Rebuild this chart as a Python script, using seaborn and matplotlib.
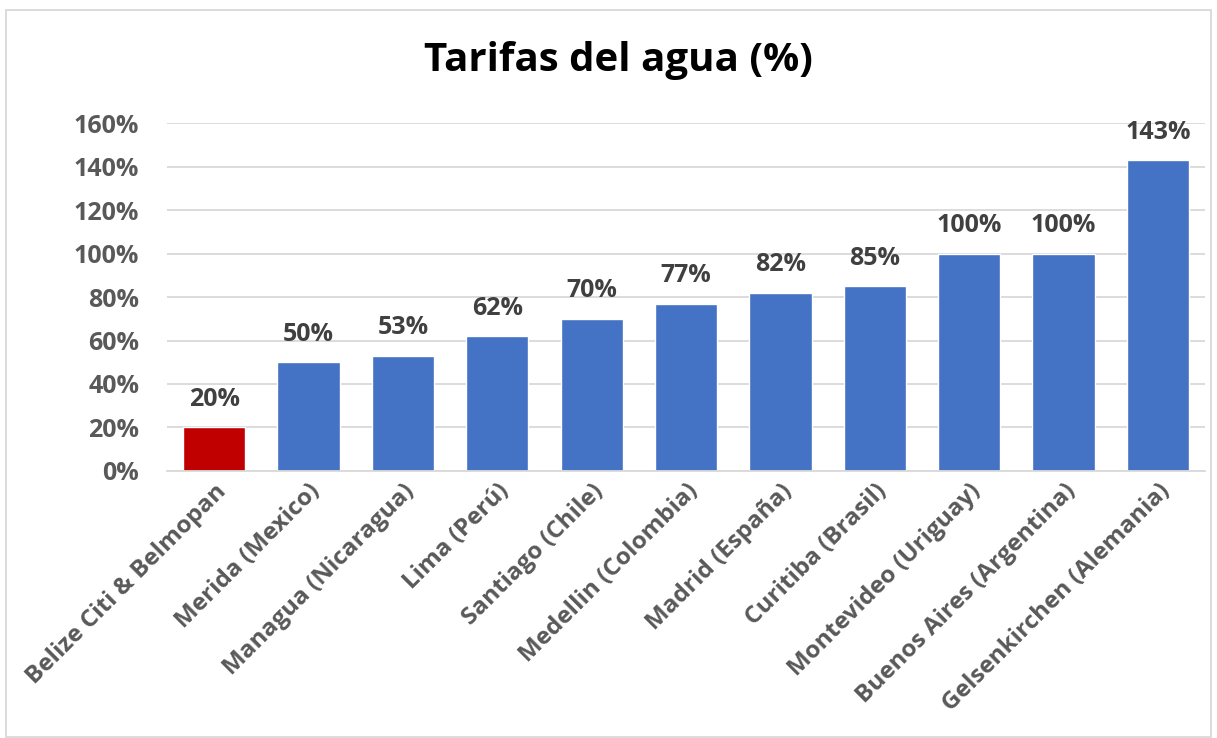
import matplotlib
matplotlib.use("Agg")
import matplotlib.pyplot as plt
import seaborn as sns
import pandas as pd
from matplotlib.patches import Rectangle
from matplotlib.ticker import FuncFormatter

# datos
ciudades = [
    "Belize Citi & Belmopan", "Merida (Mexico)", "Managua (Nicaragua)",
    "Lima (Perú)", "Santiago (Chile)", "Medellin (Colombia)",
    "Madrid (España)", "Curitiba (Brasil)", "Montevideo (Uriguay)",
    "Buenos Aires (Argentina)", "Gelsenkirchen (Alemania)",
]
tarifas = [20, 50, 53, 62, 70, 77, 82, 85, 100, 100, 143]
colores = ["#C00000"] + ["#4472C4"] * 10

df = pd.DataFrame({"ciudad": ciudades, "tarifa": tarifas})

sns.set_style("white")
plt.rcParams["font.family"] = ["Open Sans", "DejaVu Sans"]

fig = plt.figure(figsize=(12.17, 7.38), dpi=100)
ax = fig.add_axes([0.1372, 0.3618, 0.853, 0.4715])

sns.barplot(data=df, x="ciudad", y="tarifa", hue="ciudad", palette=colores,
            legend=False, width=0.66, saturation=1, ax=ax)

ax.set_ylim(0, 160)
ax.set_yticks(range(0, 161, 20))
ax.yaxis.set_major_formatter(FuncFormatter(lambda v, p: f"{v:.0f}%"))
ax.grid(axis="y", color="#D9D9D9", linewidth=1.3)
ax.set_axisbelow(True)
for s in ["top", "right", "left"]:
    ax.spines[s].set_visible(False)
ax.spines["bottom"].set_color("#D9D9D9")
ax.spines["bottom"].set_linewidth(1.3)
ax.set_xlabel("")
ax.set_ylabel("")
ax.tick_params(axis="y", length=0, labelsize=18, labelcolor="#595959", pad=20)
ax.tick_params(axis="x", length=0, pad=6)
for lbl in ax.get_yticklabels():
    lbl.set_fontweight("bold")
ax.set_xticks(range(len(ciudades)))
ax.set_xticklabels(ciudades, rotation=45, ha="right", rotation_mode="anchor",
                   fontweight="bold", fontsize=17.5, color="#595959")

for i, v in enumerate(tarifas):
    ax.annotate(f"{v}%", (i, v), xytext=(0, 11), textcoords="offset points",
                ha="center", va="bottom", fontsize=18, fontweight="bold",
                color="#404040", annotation_clip=False)

fig.text(0.508, 0.918, "Tarifas del agua (%)", ha="center", va="center",
         fontsize=29, fontweight="bold", color="black")

fig.patches.append(Rectangle((0.005, 0.002), 0.99, 0.985, transform=fig.transFigure,
                             fill=False, edgecolor="#D9D9D9", linewidth=1.3))

fig.savefig("out.png", dpi=100)
